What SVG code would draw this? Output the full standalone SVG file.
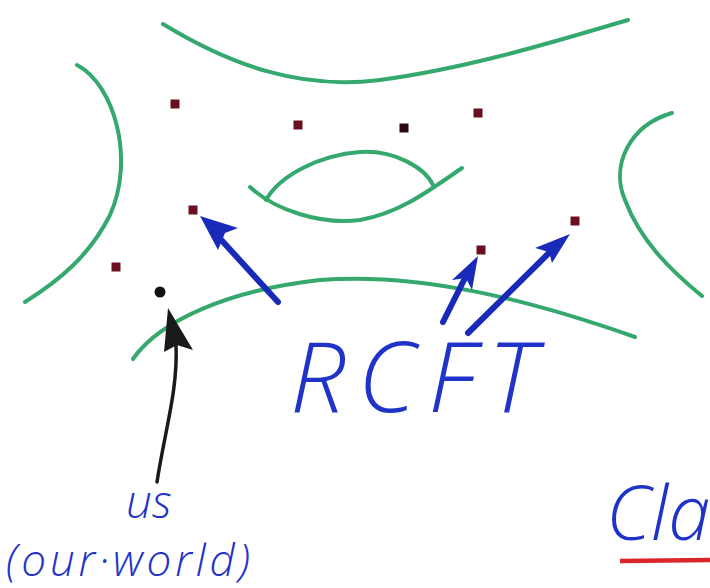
<svg xmlns="http://www.w3.org/2000/svg" width="710" height="588" viewBox="0 0 710 588">
<style>
.g{fill:none;stroke:#35a86e;stroke-width:4;stroke-linecap:round}
.d{fill:#6b1020}
.b{fill:none;stroke:#1a2ab8;stroke-width:6;stroke-linecap:round}
.bh{fill:#1a2ab8}
.tl{font-family:"Open Sans","Liberation Sans",Arial,sans-serif;font-style:italic;font-weight:300;fill:#1f33c8}
</style>
<rect width="710" height="588" fill="#ffffff"/>
<g id="curves">
<path class="g" d="M163,24 C230,65 300,90 380,80 C470,68 560,40 628,20"/>
<path class="g" d="M77,65 C115,85 135,160 110,215 C90,255 60,280 25,302"/>
<path class="g" d="M250,187 C275,210 320,225 360,220 C400,213 430,190 462,168"/>
<path class="g" d="M266,200 C280,175 320,155 360,152 C395,150 425,168 433,185"/>
<path class="g" d="M672,113 C630,125 610,165 625,200 C640,240 670,270 702,296"/>
<path class="g" d="M133,359 C160,320 230,290 320,280 C420,272 530,300 635,337"/>
</g>
<g id="points">
<rect class="d" x="170.5" y="99.5" width="9" height="9"/>
<rect class="d" x="293.5" y="120.5" width="9" height="9"/>
<rect x="399.5" y="123.5" width="9" height="9" fill="#2a0a10"/>
<rect class="d" x="473.5" y="108.5" width="9" height="9"/>
<rect class="d" x="188.5" y="205.5" width="9" height="9"/>
<rect class="d" x="111.5" y="262.5" width="9" height="9"/>
<rect class="d" x="476.5" y="245.5" width="9" height="9"/>
<rect class="d" x="570.5" y="216.5" width="9" height="9"/>
<circle id="us-point" cx="160" cy="292" r="5.5" fill="#111"/>
</g>
<g id="connectors">
<path class="b" d="M278,302 L214,232"/>
<polygon class="bh" points="200,216 238,228 225,233 218,250"/>
<path class="b" d="M443,322 L470,268"/>
<polygon class="bh" points="478,256 472,290 466,278 452,280"/>
<path class="b" d="M468,333 L555,247"/>
<polygon class="bh" points="570,234 552,263 549,252 535,248"/>
<path fill="none" stroke="#1a1a1a" stroke-width="3.5" stroke-linecap="round" d="M157,482 C165,430 178,390 176,345"/>
<polygon fill="#1a1a1a" points="168,308 193,350 177,345 164,352"/>
</g>
<g id="labels">
<text class="tl" x="290" y="412" font-size="98" textLength="246">RCFT</text>
<text class="tl" x="126" y="518" font-size="46">us</text>
<text class="tl" x="6" y="576" font-size="44" textLength="244">(our·world)</text>
<text class="tl" x="606" y="540" font-size="76">Cla</text>
<line x1="620" y1="561" x2="712" y2="560" stroke="#d8262a" stroke-width="4.5"/>
</g>
</svg>
